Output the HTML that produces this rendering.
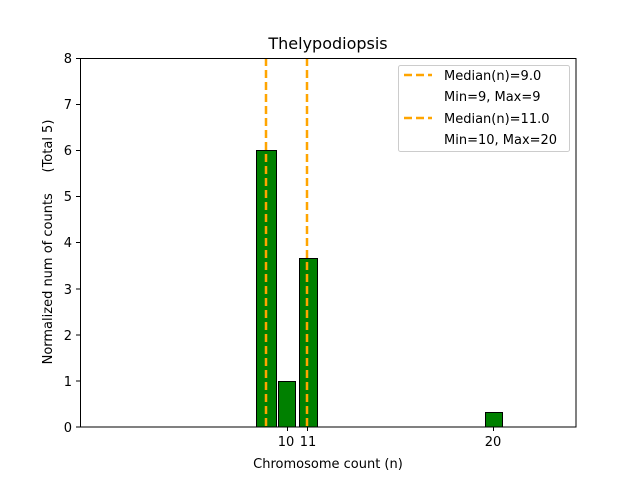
<!DOCTYPE html>
<html><head><meta charset="utf-8"><style>body{margin:0;background:#fff}</style></head><body>
<svg width="640" height="480" xmlns="http://www.w3.org/2000/svg" font-family="DejaVu Sans, Liberation Sans, sans-serif">
<rect width="640" height="480" fill="#fff"/>
<g stroke="#000" stroke-width="1" fill="#008000">
<rect x="256.5" y="150.5" width="20" height="276.5"/>
<rect x="278.5" y="381.5" width="17" height="45.5"/>
<rect x="299.5" y="258.5" width="18" height="168.5"/>
<rect x="485.5" y="412.5" width="17" height="14.5"/>
</g>
<g stroke="#ffa500" stroke-width="2.5" stroke-dasharray="8,4">
<line x1="266" y1="58" x2="266" y2="427"/>
<line x1="307" y1="58" x2="307" y2="427"/>
</g>
<rect x="80.5" y="58.5" width="495.5" height="368.5" fill="none" stroke="#000"/>
<g stroke="#000">
<line x1="76" y1="427" x2="80" y2="427"/><line x1="76" y1="381" x2="80" y2="381"/>
<line x1="76" y1="335" x2="80" y2="335"/><line x1="76" y1="289" x2="80" y2="289"/>
<line x1="76" y1="242.5" x2="80" y2="242.5"/><line x1="76" y1="196.5" x2="80" y2="196.5"/>
<line x1="76" y1="150.5" x2="80" y2="150.5"/><line x1="76" y1="104.5" x2="80" y2="104.5"/>
<line x1="76" y1="58.5" x2="80" y2="58.5"/>
<line x1="287.5" y1="427" x2="287.5" y2="431"/><line x1="307.5" y1="427" x2="307.5" y2="431"/>
<line x1="493.5" y1="427" x2="493.5" y2="431"/>
</g>
<g font-size="13" text-anchor="end">
<text x="72" y="432">0</text><text x="72" y="386">1</text><text x="72" y="340">2</text>
<text x="72" y="294">3</text><text x="72" y="247">4</text><text x="72" y="201">5</text>
<text x="72" y="155">6</text><text x="72" y="109">7</text><text x="72" y="63">8</text>
</g>
<g font-size="13" text-anchor="middle">
<text x="286" y="446">10</text><text x="308" y="446">11</text><text x="493" y="446">20</text>
<text x="328" y="468">Chromosome count (n)</text>
<text x="328" y="49" font-size="16">Thelypodiopsis</text>
<text transform="translate(52,242) rotate(-90)" xml:space="preserve" style="white-space:pre">Normalized num of counts     (Total 5)</text>
</g>
<rect x="398.5" y="65.5" width="171" height="86" rx="2" fill="#fff" stroke="#ccc"/>
<g stroke="#ffa500" stroke-width="2.5" stroke-dasharray="8,4">
<line x1="404" y1="75" x2="432" y2="75"/><line x1="404" y1="118" x2="432" y2="118"/>
</g>
<g font-size="13">
<text x="444" y="80">Median(n)=9.0</text><text x="444" y="101">Min=9, Max=9</text>
<text x="444" y="123">Median(n)=11.0</text><text x="444" y="144">Min=10, Max=20</text>
</g>
</svg>
</body></html>
